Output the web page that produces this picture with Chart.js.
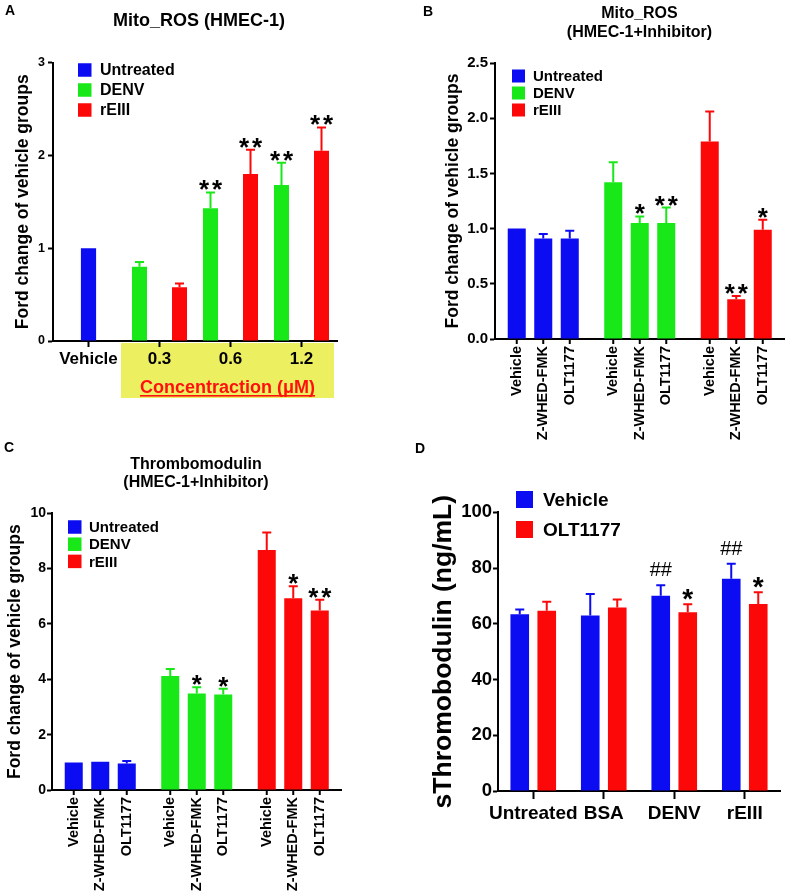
<!DOCTYPE html>
<html><head><meta charset="utf-8">
<script src="https://cdn.jsdelivr.net/npm/chart.js@4.4.1/dist/chart.umd.min.js"></script>
<style>
html,body{margin:0;padding:0;background:#fff;}
#wrap{position:relative;width:787px;height:895px;overflow:hidden;background:#fff;}
#wrap canvas{position:absolute;left:0;top:0;}
</style></head><body>
<div id="wrap">
<canvas id="cA" width="787" height="895"></canvas>
<canvas id="cB" width="787" height="895"></canvas>
<canvas id="cC" width="787" height="895"></canvas>
<canvas id="cD" width="787" height="895"></canvas>
</div>
<script>
// ---------- DATA ----------
const groupNames = ['Untreated', 'DENV', 'rEIII'];

// Panel A: Mito_ROS (HMEC-1)
const catsA = ['Vehicle', '0.3', '0.6', '1.2'];
const untreatedA = [1.00, null, null, null];
const untreatedErrA = [0, null, null, null];
const denvA = [null, 0.80, 1.43, 1.68];
const denvErrA = [null, 0.05, 0.17, 0.24];
const reiiiA = [null, 0.58, 1.80, 2.05];
const reiiiErrA = [null, 0.04, 0.26, 0.25];
const denvSigA = ['', '', '**', '**'];
const reiiiSigA = ['', '', '**', '**'];
const yTicksA = [0, 1, 2, 3];

// Panel B: Mito_ROS (HMEC-1+Inhibitor)
const treatments = ['Vehicle', 'Z-WHED-FMK', 'OLT1177'];
const vehicleB = [1.00, 1.42, 1.79];
const vehicleErrB = [0, 0.18, 0.27];
const zwhedB = [0.91, 1.05, 0.36];
const zwhedErrB = [0.04, 0.06, 0.03];
const oltB = [0.91, 1.05, 0.99];
const oltErrB = [0.07, 0.14, 0.09];
const vehicleSigB = ['', '', ''];
const zwhedSigB = ['', '*', '**'];
const oltSigB = ['', '**', '*'];
const yTicksB = [0, 0.5, 1.0, 1.5, 2.0, 2.5];

// Panel C: Thrombomodulin (HMEC-1+Inhibitor)
const vehicleC = [0.99, 4.12, 8.67];
const vehicleErrC = [0, 0.25, 0.64];
const zwhedC = [1.02, 3.49, 6.93];
const zwhedErrC = [0, 0.22, 0.43];
const oltC = [0.96, 3.45, 6.49];
const oltErrC = [0.09, 0.21, 0.39];
const vehicleSigC = ['', '', ''];
const zwhedSigC = ['', '*', '*'];
const oltSigC = ['', '*', '**'];
const yTicksC = [0, 2, 4, 6, 8, 10];

// Panel D: sThromobodulin
const catsD = ['Untreated', 'BSA', 'DENV', 'rEIII'];
const seriesD = ['Vehicle', 'OLT1177'];
const vehicleD = [63.4, 63.0, 70.1, 76.2];
const vehicleErrD = [1.7, 7.7, 3.7, 5.3];
const oltD = [64.7, 65.8, 64.1, 67.1];
const oltErrD = [3.2, 2.9, 2.9, 4.2];
const vehicleSigD = ['', '', '##', '##'];
const oltSigD = ['', '', '*', '*'];
const yTicksD = [0, 20, 40, 60, 80, 100];

// ---------- STYLE ----------
const BLUE = '#0c0cf2', GREEN = '#18e818', RED = '#fc0808';
const groupColors = [BLUE, GREEN, RED];
const FONT = "'Liberation Sans', Arial, Helvetica, sans-serif";
Chart.defaults.font.family = FONT;
Chart.defaults.font.weight = 'bold';
Chart.defaults.color = '#000';

function fnt(size, weight) { return (weight || 'bold') + ' ' + size + 'px ' + FONT; }

function drawSig(ctx, s, x, top, o) {
  ctx.save();
  ctx.fillStyle = '#000';
  ctx.textBaseline = 'alphabetic';
  ctx.textAlign = 'left';
  if (s.indexOf('#') >= 0) {
    ctx.font = fnt(o.hashSize, 'normal');
    const w = ctx.measureText(s).width;
    ctx.fillText(s, x - w / 2, top - o.hashGap);
  } else {
    ctx.font = fnt(o.starSize, 'bold');
    const w = ctx.measureText('*').width;
    const n = s.length;
    const total = n * w + (n - 1) * o.starGap;
    let sx = x - total / 2;
    for (let k = 0; k < n; k++) {
      ctx.fillText('*', sx + k * (w + o.starGap), top + o.starDy);
    }
  }
  ctx.restore();
}

const decor = {
  id: 'decor',
  beforeDraw(chart, args, o) {
    if (!o.band) return;
    const ctx = chart.ctx, xs = chart.scales.x, ca = chart.chartArea, b = o.band;
    const x0 = (xs.getPixelForValue(0) + xs.getPixelForValue(1)) / 2 - 3;
    const x1 = ca.right - 3;
    ctx.save();
    ctx.fillStyle = b.color;
    ctx.fillRect(x0, ca.bottom + 2, x1 - x0, b.height);
    ctx.font = fnt(b.size);
    ctx.fillStyle = b.textColor;
    ctx.textAlign = 'center';
    ctx.textBaseline = 'alphabetic';
    const cx = (x0 + x1) / 2, by = ca.bottom + b.baseline;
    ctx.fillText(b.text, cx, by);
    const w = ctx.measureText(b.text).width;
    ctx.fillRect(cx - w / 2, by + 2, w, 1.6);
    ctx.restore();
  },
  afterDatasetsDraw(chart, args, o) {
    const ctx = chart.ctx, ys = chart.scales.y, ca = chart.chartArea;
    chart.data.datasets.forEach((ds, i) => {
      const meta = chart.getDatasetMeta(i);
      meta.data.forEach((bar, j) => {
        const v = ds.data[j];
        if (v == null) return;
        const col = Array.isArray(ds.backgroundColor) ? ds.backgroundColor[j] : ds.backgroundColor;
        const e = ds.err ? ds.err[j] : 0;
        let top = bar.y;
        if (e) {
          top = ys.getPixelForValue(v + e);
          ctx.save();
          ctx.strokeStyle = col;
          ctx.lineWidth = 2;
          ctx.beginPath();
          ctx.moveTo(bar.x, bar.y);
          ctx.lineTo(bar.x, top);
          ctx.moveTo(bar.x - o.cap, top);
          ctx.lineTo(bar.x + o.cap, top);
          ctx.stroke();
          ctx.restore();
        }
        const s = ds.sig ? ds.sig[j] : '';
        if (s) drawSig(ctx, s, bar.x, top, o);
        if (o.barLabels) {
          const bl = o.barLabels;
          ctx.save();
          ctx.strokeStyle = '#000';
          ctx.lineWidth = 2;
          ctx.beginPath();
          ctx.moveTo(bar.x, ca.bottom);
          ctx.lineTo(bar.x, ca.bottom + bl.tick);
          ctx.stroke();
          ctx.translate(bar.x, ca.bottom + bl.offset);
          ctx.rotate(-Math.PI / 2);
          ctx.font = fnt(bl.size);
          ctx.fillStyle = '#000';
          ctx.textAlign = 'right';
          ctx.textBaseline = 'middle';
          ctx.fillText(ds.label, 0, 0);
          ctx.restore();
        }
      });
    });
  },
  afterDraw(chart, args, o) {
    const ctx = chart.ctx;
    ctx.save();
    ctx.fillStyle = '#000';
    if (o.letter) {
      ctx.font = fnt(o.letter.size);
      ctx.textAlign = 'left';
      ctx.textBaseline = 'alphabetic';
      ctx.fillText(o.letter.text, o.letter.x, o.letter.y);
    }
    if (o.titles) {
      ctx.textAlign = 'center';
      ctx.textBaseline = 'middle';
      o.titles.forEach(t => { ctx.font = fnt(t.size); ctx.fillText(t.text, t.x, t.y); });
    }
    if (o.legend) {
      const L = o.legend;
      L.items.forEach((it, k) => {
        const cy = L.y + k * L.gap;
        ctx.fillStyle = it.color;
        ctx.fillRect(L.x, cy - L.box / 2, L.box, L.box);
        ctx.fillStyle = '#000';
        ctx.font = fnt(L.size);
        ctx.textAlign = 'left';
        ctx.textBaseline = 'middle';
        ctx.fillText(it.label, L.textX, cy + 1);
      });
    }
    ctx.restore();
  }
};

function yAxis(ticksArr, o) {
  return {
    type: 'linear',
    min: ticksArr[0], max: ticksArr[ticksArr.length - 1],
    afterBuildTicks: s => { s.ticks = ticksArr.map(v => ({ value: v })); },
    afterFit: s => { s.width = o.width; },
    border: { display: true, color: '#000', width: 2 },
    grid: { display: true, drawOnChartArea: false, drawTicks: true, tickLength: 5, tickWidth: 2, tickColor: '#000' },
    ticks: { color: '#000', font: { size: o.tickSize, weight: 'bold' }, padding: o.pad,
             callback: o.fmt || (v => String(v)) },
    title: { display: true, text: o.title, color: '#000', font: { size: o.titleSize, weight: 'bold' },
             padding: { top: 4, bottom: 4 } }
  };
}
function xCatAxis(o) {
  return {
    type: 'category',
    offset: true,
    afterFit: s => { s.height = o.height; },
    border: { display: true, color: '#000', width: 2 },
    grid: { display: !!o.ticks, offset: false, drawOnChartArea: false, drawTicks: true,
            tickLength: o.tickLength || 6, tickWidth: 2, tickColor: '#000' },
    ticks: o.ticks ? { display: true, color: '#000', font: { size: o.size, weight: 'bold' }, padding: o.pad,
                       maxRotation: 0, minRotation: 0, autoSkip: false }
                   : { display: false }
  };
}
const W = 787, H = 895;
const baseOpts = { responsive: false, maintainAspectRatio: false, animation: false, devicePixelRatio: 1, events: [] };

// ---------- PANEL A ----------
new Chart(document.getElementById('cA'), {
  type: 'bar',
  data: {
    labels: catsA,
    datasets: [
      { label: groupNames[0], data: untreatedA, err: untreatedErrA, backgroundColor: BLUE,
        skipNull: true, categoryPercentage: 1.127, barPercentage: 0.19 },
      { label: groupNames[1], data: denvA, err: denvErrA, sig: denvSigA, backgroundColor: GREEN,
        skipNull: true, categoryPercentage: 1.127, barPercentage: 0.375 },
      { label: groupNames[2], data: reiiiA, err: reiiiErrA, sig: reiiiSigA, backgroundColor: RED,
        skipNull: true, categoryPercentage: 1.127, barPercentage: 0.375 }
    ]
  },
  options: Object.assign({}, baseOpts, {
    layout: { padding: { left: 8.5, right: W - 337, top: 62.5, bottom: H - 341 - 30 } },
    scales: {
      x: xCatAxis({ height: 30, ticks: true, size: 17, pad: 2, tickLength: 6 }),
      y: yAxis(yTicksA, { width: 44.5, tickSize: 12.5, pad: 3, title: 'Ford change of vehicle groups', titleSize: 17.5 })
    },
    plugins: {
      legend: { display: false }, tooltip: { enabled: false },
      decor: {
        cap: 4.5, starSize: 26, starGap: 3, starDy: 6, hashSize: 20, hashGap: 9,
        letter: { text: 'A', x: 5, y: 15, size: 14 },
        titles: [{ text: 'Mito_ROS (HMEC-1)', x: 199, y: 21, size: 18 }],
        legend: { x: 78, y: 70, gap: 20, box: 13.5, textX: 100, size: 16,
                  items: groupNames.map((g, k) => ({ label: g, color: groupColors[k] })) },
        band: { color: '#ecef60', height: 55, text: 'Concentraction (\u03bcM)', textColor: '#ff1010', size: 18, baseline: 52 }
      }
    }
  }),
  plugins: [decor]
});

// ---------- PANEL B ----------
new Chart(document.getElementById('cB'), {
  type: 'bar',
  data: {
    labels: groupNames,
    datasets: [
      { label: treatments[0], data: vehicleB, err: vehicleErrB, sig: vehicleSigB, backgroundColor: groupColors,
        categoryPercentage: 0.824, barPercentage: 0.68 },
      { label: treatments[1], data: zwhedB, err: zwhedErrB, sig: zwhedSigB, backgroundColor: groupColors,
        categoryPercentage: 0.824, barPercentage: 0.68 },
      { label: treatments[2], data: oltB, err: oltErrB, sig: oltSigB, backgroundColor: groupColors,
        categoryPercentage: 0.824, barPercentage: 0.68 }
    ]
  },
  options: Object.assign({}, baseOpts, {
    layout: { padding: { left: 439, right: 2.5, top: 63, bottom: H - 339 - 10 } },
    scales: {
      x: xCatAxis({ height: 10, ticks: false }),
      y: yAxis(yTicksB, { width: 56, tickSize: 15, pad: 2, title: 'Ford change of vehicle groups', titleSize: 17.5,
                          fmt: v => Number(v).toFixed(1) })
    },
    plugins: {
      legend: { display: false }, tooltip: { enabled: false },
      decor: {
        cap: 4.5, starSize: 26, starGap: 3, starDy: 6, hashSize: 20, hashGap: 9,
        letter: { text: 'B', x: 423, y: 16, size: 14 },
        titles: [{ text: 'Mito_ROS', x: 639.5, y: 14, size: 16 },
                 { text: '(HMEC-1+Inhibitor)', x: 639.5, y: 33, size: 16 }],
        legend: { x: 512, y: 76, gap: 17, box: 13, textX: 533, size: 15,
                  items: groupNames.map((g, k) => ({ label: g, color: groupColors[k] })) },
        barLabels: { tick: 5, offset: 7, size: 14.5 }
      }
    }
  }),
  plugins: [decor]
});

// ---------- PANEL C ----------
new Chart(document.getElementById('cC'), {
  type: 'bar',
  data: {
    labels: groupNames,
    datasets: [
      { label: treatments[0], data: vehicleC, err: vehicleErrC, sig: vehicleSigC, backgroundColor: groupColors,
        categoryPercentage: 0.824, barPercentage: 0.68 },
      { label: treatments[1], data: zwhedC, err: zwhedErrC, sig: zwhedSigC, backgroundColor: groupColors,
        categoryPercentage: 0.824, barPercentage: 0.68 },
      { label: treatments[2], data: oltC, err: oltErrC, sig: oltSigC, backgroundColor: groupColors,
        categoryPercentage: 0.824, barPercentage: 0.68 }
    ]
  },
  options: Object.assign({}, baseOpts, {
    layout: { padding: { left: 1, right: W - 341.5, top: 513.3, bottom: H - 790 - 10 } },
    scales: {
      x: xCatAxis({ height: 10, ticks: false }),
      y: yAxis(yTicksC, { width: 51, tickSize: 14, pad: 1, title: 'Ford change of vehicle groups', titleSize: 17.5 })
    },
    plugins: {
      legend: { display: false }, tooltip: { enabled: false },
      decor: {
        cap: 4.5, starSize: 26, starGap: 3, starDy: 6, hashSize: 20, hashGap: 9,
        letter: { text: 'C', x: 4, y: 452, size: 14 },
        titles: [{ text: 'Thrombomodulin', x: 196, y: 465, size: 16 },
                 { text: '(HMEC-1+Inhibitor)', x: 196, y: 483, size: 16 }],
        legend: { x: 68, y: 527, gap: 17.2, box: 13.5, textX: 89, size: 15,
                  items: groupNames.map((g, k) => ({ label: g, color: groupColors[k] })) },
        barLabels: { tick: 5, offset: 7, size: 14.5 }
      }
    }
  }),
  plugins: [decor]
});

// ---------- PANEL D ----------
new Chart(document.getElementById('cD'), {
  type: 'bar',
  data: {
    labels: catsD,
    datasets: [
      { label: seriesD[0], data: vehicleD, err: vehicleErrD, sig: vehicleSigD, backgroundColor: BLUE,
        categoryPercentage: 0.766, barPercentage: 0.69 },
      { label: seriesD[1], data: oltD, err: oltErrD, sig: oltSigD, backgroundColor: RED,
        categoryPercentage: 0.766, barPercentage: 0.69 }
    ]
  },
  options: Object.assign({}, baseOpts, {
    layout: { padding: { left: 424, right: W - 780, top: 512.3, bottom: H - 791 - 36 } },
    scales: {
      x: xCatAxis({ height: 36, ticks: true, size: 19, pad: 3.5, tickLength: 8 }),
      y: yAxis(yTicksD, { width: 74, tickSize: 18.5, pad: 1, title: 'sThromobodulin (ng/mL)', titleSize: 26.5 })
    },
    plugins: {
      legend: { display: false }, tooltip: { enabled: false },
      decor: {
        cap: 4.5, starSize: 28, starGap: 3, starDy: 4, hashSize: 20, hashGap: 9,
        letter: { text: 'D', x: 415, y: 453, size: 14 },
        legend: { x: 516, y: 499.5, gap: 30, box: 17, textX: 543, size: 19,
                  items: seriesD.map((g, k) => ({ label: g, color: [BLUE, RED][k] })) }
      }
    }
  }),
  plugins: [decor]
});
</script>
</body></html>
